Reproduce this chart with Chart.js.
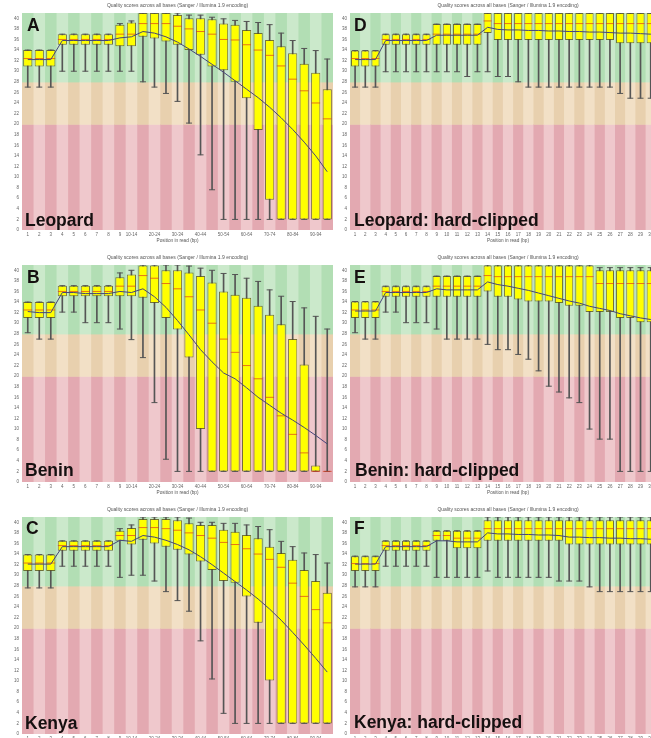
<!DOCTYPE html>
<html>
<head>
<meta charset="utf-8">
<script src="https://cdn.jsdelivr.net/npm/chart.js@4.4.0/dist/chart.umd.min.js"></script>
<style>
  html, body { margin: 0; padding: 0; background: #fff; width: 651px; height: 738px; overflow: hidden; }
  .panel { position: absolute; }
  .tag { position: absolute; font-family: "Liberation Sans", Arial, sans-serif; font-weight: bold;
         font-size: 17.5px; line-height: 1; color: #151010; white-space: nowrap; }
</style>
</head>
<body>
<canvas class="panel" id="cA" width="340" height="252" style="left:0;top:0"></canvas>
<canvas class="panel" id="cB" width="340" height="252" style="left:0;top:252px"></canvas>
<canvas class="panel" id="cC" width="340" height="252" style="left:0;top:504px"></canvas>
<canvas class="panel" id="cD" width="360" height="252" style="left:325px;top:0"></canvas>
<canvas class="panel" id="cE" width="360" height="252" style="left:325px;top:252px"></canvas>
<canvas class="panel" id="cF" width="360" height="252" style="left:325px;top:504px"></canvas>

<div class="tag" style="left:27px;top:17px">A</div>
<div class="tag" style="left:25px;top:212px">Leopard</div>
<div class="tag" style="left:27px;top:268.5px">B</div>
<div class="tag" style="left:25px;top:462px">Benin</div>
<div class="tag" style="left:26px;top:520px">C</div>
<div class="tag" style="left:25px;top:715px">Kenya</div>
<div class="tag" style="left:354px;top:17px">D</div>
<div class="tag" style="left:354px;top:212px">Leopard: hard-clipped</div>
<div class="tag" style="left:354px;top:268.5px">E</div>
<div class="tag" style="left:355px;top:462px">Benin: hard-clipped</div>
<div class="tag" style="left:354px;top:520px">F</div>
<div class="tag" style="left:354px;top:713.5px">Kenya: hard-clipped</div>

<script>
// position groups on the x axis
const groupedLabels = ['1','2','3','4','5','6','7','8','9','10-14','15-19','20-24','25-29','30-34','35-39',
  '40-44','45-49','50-54','55-59','60-64','65-69','70-74','75-79','80-84','85-89','90-94','95-99'];
const baseLabels = ['1','2','3','4','5','6','7','8','9','10','11','12','13','14','15','16','17','18','19','20',
  '21','22','23','24','25','26','27','28','29','30','31'];
const yTicks = [0,2,4,6,8,10,12,14,16,18,20,22,24,26,28,30,32,34,36,38,40];
const zoneLimits = [0, 20, 28, 41];

// A: Leopard
const leopardLow  = [27,27,27, 30,30,30,30,30, 30,30, 28,27,25.8,24.3,20.2,14.2,7.6,2,2,2,2,2,2,2,2,2,2];
const leopardQ1   = [30.9,30.9,30.9, 35,35,35,35,35, 34.7,34.7, 36.5,36.2,35.6,35,34,33.1,30.9,30.2,28,24.9,18.9,5.7,2,2,2,2,2];
const leopardMed  = [32.4,32.4,32.4, 36,36,36,36,36, 37,37, 39,39,39,38.5,38,37.5,37,36,35.9,35,34,33,31,28.5,26.3,24,21];
const leopardQ3   = [34,34,34, 37,37,37,37,37, 38.8,39.2, 41,41,41,40.6,40,40,39.8,39,38.8,37.8,37.2,35.9,34.7,33.4,31.4,29.7,26.6];
const leopardHigh = [34,34,34, 37,37,37,37,37, 39,39.5, 41,41,41,41,40.6,40.6,40.2,39.9,39.6,39.4,39.2,38.8,37.2,35.8,34.3,33.9,32.3];
const leopardMean = [32.2,32.2,32.2, 35.8,35.8,35.8,35.8,35.8, 36.3,36.5, 37.5,37.2,36.5,35.5,34.2,32.8,31.3,29.8,28.2,26.6,25,23.2,21.2,19,16.6,14,11];

// B: Benin
const beninLow  = [28.2,27,27, 32.1,32.1,30.1,30.1,30.1, 28.9,26.9, 23.5,15,4.3,2,2,2,2,2,2,2,2,2,2,2,2,2,2];
const beninQ1   = [31,31,31, 35.1,35.1,35.1,35.1,35.1, 35.1,35.1, 34.8,33.8,31,28.8,23.5,10,2,2,2,2,2,2,2,2,2,2,2];
const beninMed  = [32.5,32.5,32.5, 36,36,36,36,36, 37,37, 39,38.5,37.5,36.5,35,32.5,30,27,24.5,22,19.5,16,12.5,9,5.5,2,2];
const beninQ3   = [34,34,34, 37.1,37.1,37.1,37.1,37.1, 38.7,39.2, 40.9,40.9,40,40,39.6,38.9,37.7,36,35.4,34.8,33.3,31.6,29.8,27,22.2,3.1,2];
const beninHigh = [34,34,34, 37.1,37.1,37.1,37.1,37.1, 39.5,40, 41,41,41,41,40.8,40.4,40,39.4,39.2,38.5,37.9,36.3,35.1,34.1,32.9,31.3,28.9];
const beninMean = [32.2,32,32, 35.8,35.8,35.6,35.6,35.6, 36,35.8, 36.5,35,33,30.5,27.8,25,22.7,20.6,19.5,17.8,16,14.5,13,11.7,10.3,8.8,7.2];

// C: Kenya
const kenyaLow  = [27.6,27.6,27.6, 31.7,31.7,31.7,31.7,31.7, 29.6,30, 30,28.9,26.9,25.2,23.2,17.6,10.4,3.9,2,2,2,2,2,2,2,2,2];
const kenyaQ1   = [30.8,30.8,30.8, 34.6,34.6,34.6,34.6,34.6, 36.5,35.8, 36.7,36,35.4,34.8,33.9,32.6,31,28.9,28.6,26,21,10.1,2,2,2,2,2];
const kenyaMed  = [32.3,32.3,32.3, 35.6,35.6,35.6,35.6,35.6, 37.5,37.5, 39,39,38.8,38.5,38,37.5,37,36.2,35.8,35,34,33,31.5,28.5,26,23.5,21];
const kenyaQ3   = [33.9,33.9,33.9, 36.5,36.5,36.5,36.5,36.5, 38.4,38.9, 40.6,40.6,40.6,40.4,39.8,39.5,39.5,38.6,38.2,37.6,37,35.4,34.2,32.9,31,28.9,26.7];
const kenyaHigh = [33.9,33.9,33.9, 36.5,36.5,36.5,36.5,36.5, 38.8,39.5, 41,41,41,41,40.8,40,40,39.8,39.8,39.5,39.2,38.6,36.4,35.4,34.2,33.9,32.3];
const kenyaMean = [32.1,32.1,32.1, 35.4,35.4,35.4,35.4,35.4, 36.6,36.4, 37.5,37.2,36.6,35.8,34.8,33.5,32,30.4,28.8,27.2,25.5,23.6,21.5,19.2,16.8,14.3,11.7];

// D: Leopard hard-clipped
const clipLeopardLow  = [27,27,27, 29.9,29.9,29.9,29.9,29.9, 29.9,29.9,29.9,29,29.9, 29.9, 29,29, 28, 27,27,27,27,27,27,27,27,27, 25.8, 24.9,24.9,24.9,24.9];
const clipLeopardQ1   = [30.9,30.9,30.9, 35,35,35,35,35, 35,35,35,35,35, 37.2, 35.9,35.9,35.9,35.9,35.9,35.9,35.9,35.9,35.9,35.9,35.9,35.9, 35.3,35.3,35.3,35.3,35.3];
const clipLeopardMed  = [32.4,32.4,32.4, 36,36,36,36,36, 37,37,37,37,37, 39.5, 39,39,39,39,39,39,39,39,39,39,39,39,39,39,39,39,39];
const clipLeopardQ3   = [33.9,33.9,33.9, 37,37,37,37,37, 38.9,38.9,38.9,38.9,38.9, 41,41,41,41,41,41,41,41,41,41,41,41,41,41,41,41,41,41];
const clipLeopardHigh = [33.9,33.9,33.9, 37,37,37,37,37, 38.9,38.9,38.9,38.9,38.9, 41,41,41,41,41,41,41,41,41,41,41,41,41,41,41,41,41,41];
const clipLeopardMean = [32.2,32.2,32.2, 35.8,35.8,35.8,35.8,35.8, 36.8,36.8,36.8,36.8,36.8, 38.3, 37.9,37.8,37.8,37.7,37.7,37.6,37.6,37.5,37.5,37.4,37.4,37.3,37.2,37.2,37.1,37,37];

// E: Benin hard-clipped
const clipBeninLow  = [28.2,27,27, 32.1,32.1,30.1,30.1,30.1, 28.9, 27,27,27,27, 26, 25,25, 24.1, 23.2, 21, 18.1, 17, 15.9, 15, 10, 8.1,8.1, 2,2,2,2,2];
const clipBeninQ1   = [31,31,31, 35,35,35,35,35, 35,35,35,35,35, 36, 35,35, 34.5, 34.1,34.1,34.1, 33.8, 33.3,33.3, 32.1,32.1,32.1, 31,31, 30.2,30.2, 30];
const clipBeninMed  = [32.5,32.5,32.5, 36,36,36,36,36, 37,37,37,37,37, 39, 38.8,38.8,38.8,38.8,38.8,38.8,38.8,38.8,38.8,38.8, 37.5,37.5,37.5,37.5,37.5,37.5,37.5];
const clipBeninQ3   = [34.1,34.1,34.1, 37,37,37,37,37, 38.9,38.9,38.9,38.9,38.9, 40.9,40.9,40.9,40.9,40.9,40.9,40.9,40.9,40.9,40.9,40.9, 40,40,40,40,40,40,40];
const clipBeninHigh = [34.1,34.1,34.1, 37,37,37,37,37, 38.9,38.9,38.9,38.9,38.9, 41,41,41,41,41,41,41,41,41,41,41, 40.5,40.5,40.5,40.5,40.5,40.5,40.5];
const clipBeninMean = [32.3,32.3,32.3, 35.8,35.8,35.8,35.8,35.8, 36.5,36.3,36.3,36.3,36.3, 37.8,37.3,37,36.6,36.2,35.7,35.2,34.7,34.2,33.8,33.2,32.8,32.4,31.8,31.4,31,30.7,30.3];

// F: Kenya hard-clipped
const clipKenyaLow  = [27.8,27.8,27.8, 31.7,31.7,31.7,31.7,31.7, 29.6,29.6,29.6,29.6,29.6, 30.8, 29.6,29.6,29.6,29.6,29.6,29.6, 28.9,28.9,28.9, 27.8, 26.9,26.9,26.9,26.9,26.9,26.9,26.9];
const clipKenyaQ1   = [30.8,30.8,30.8, 34.6,34.6,34.6,34.6,34.6, 36.5,36.5, 35.1,35.1,35.1, 36.5,36.5,36.5,36.5,36.5,36.5,36.5,36.5, 35.8,35.8,35.8,35.8,35.8,35.8,35.8,35.8,35.8,35.8];
const clipKenyaMed  = [32.2,32.2,32.2, 35.6,35.6,35.6,35.6,35.6, 37.5,37.5, 37,37,37, 38.8,38.8,38.8,38.8,38.8,38.8,38.8,38.8,38.8,38.8,38.8,38.8,38.8,38.8,38.8,38.8,38.8,38.8];
const clipKenyaQ3   = [33.6,33.6,33.6, 36.5,36.5,36.5,36.5,36.5, 38.4,38.4,38.4,38.4,38.4, 40.4,40.4,40.4,40.4,40.4,40.4,40.4,40.4,40.4,40.4,40.4,40.4,40.4,40.4,40.4,40.4,40.4,40.4];
const clipKenyaHigh = [33.6,33.6,33.6, 36.5,36.5,36.5,36.5,36.5, 38.4,38.4,38.4,38.4,38.4, 41,41,41,41,41,41,41,41,41,41,41,41,41,41,41,41,41,41];
const clipKenyaMean = [32.1,32.1,32.1, 35.4,35.4,35.4,35.4,35.4, 36.5,36.5, 36.3,36.3,36.3, 38,37.8,37.8,37.7,37.7,37.6,37.6,37.5, 37.2,37.2,37.1,37.1,37,37,36.9,36.9,36.8,36.7];

const plotTitle = 'Quality scores across all bases (Sanger / Illumina 1.9 encoding)';

Chart.defaults.font.family = '"Liberation Sans", Arial, sans-serif';

// green / orange / red bands, alternating shade per column (FastQC style)
const zoneColors = [['#e3a9b1', '#efc8cc'], ['#e8d0ae', '#f2e0c6'], ['#b2deb4', '#cbe9cb']];

const zones = {
  id: 'zones',
  beforeDatasetsDraw(chart) {
    const { ctx, chartArea, scales: { x, y } } = chart;
    const n = chart.data.labels.length;
    const step = x.getPixelForValue(1) - x.getPixelForValue(0);
    ctx.save();
    ctx.beginPath();
    ctx.rect(chartArea.left, chartArea.top, chartArea.right - chartArea.left, chartArea.bottom - chartArea.top);
    ctx.clip();
    for (let i = 0; i < n; i++) {
      const x0 = x.getPixelForValue(i) - step / 2;
      for (let z = 0; z < 3; z++) {
        const top = y.getPixelForValue(zoneLimits[z + 1]);
        const bottom = y.getPixelForValue(zoneLimits[z]);
        ctx.fillStyle = zoneColors[z][i % 2];
        ctx.fillRect(x0, top, step + 0.6, bottom - top + 0.6);
      }
    }
    ctx.restore();
  }
};

const titleText = {
  id: 'titleText',
  afterDraw(chart) {
    const { ctx, chartArea } = chart;
    ctx.save();
    ctx.font = '5px "Liberation Sans", Arial, sans-serif';
    ctx.fillStyle = '#555';
    ctx.textAlign = 'center';
    ctx.textBaseline = 'middle';
    ctx.fillText(plotTitle, (chartArea.left + chartArea.right) / 2, chartArea.top - 7);
    ctx.restore();
  }
};

function boxChart(id, labels, low, q1, med, q3, high, mean, grouped) {
  const whisker = '#555';
  return new Chart(document.getElementById(id), {
    data: {
      labels: labels,
      datasets: [
        { type: 'line', data: mean, borderColor: '#45457a', borderWidth: 1, pointRadius: 0, order: 0 },
        { type: 'line', data: med, showLine: false, pointStyle: 'line', pointRadius: grouped ? 4.4 : 4,
          pointBorderColor: 'rgba(220,60,30,0.7)', pointBorderWidth: 1, order: 1 },
        { type: 'line', data: low, showLine: false, pointStyle: 'line', pointRadius: 3,
          pointBorderColor: whisker, pointBorderWidth: 1, order: 2 },
        { type: 'line', data: high, showLine: false, pointStyle: 'line', pointRadius: 3,
          pointBorderColor: whisker, pointBorderWidth: 1, order: 2 },
        { type: 'bar', data: q1.map((v, i) => [v, q3[i]]), backgroundColor: '#ffff00',
          borderColor: 'rgba(90,84,20,0.8)', borderWidth: 1, borderSkipped: false,
          barPercentage: 0.8, categoryPercentage: 1, grouped: false, order: 3 },
        { type: 'bar', data: low.map((v, i) => [v, high[i]]), backgroundColor: whisker,
          barThickness: 1, grouped: false, order: 4 }
      ]
    },
    options: {
      responsive: false,
      animation: false,
      devicePixelRatio: 1,
      layout: { padding: grouped ? { left: 0, right: 7, top: 13, bottom: 7 }
                                 : { left: 3, right: 19, top: 13, bottom: 7 } },
      plugins: { legend: { display: false }, tooltip: { enabled: false } },
      scales: {
        x: {
          type: 'category',
          offset: true,
          grid: { display: false, drawTicks: false },
          border: { display: false },
          ticks: {
            autoSkip: false, maxRotation: 0, minRotation: 0, padding: 2,
            font: { size: 4.5 }, color: '#666',
            callback: function (val, idx) {
              if (grouped && idx > 9 && (idx - 9) % 2) return '';
              return this.getLabelForValue(val);
            }
          },
          title: { display: true, text: 'Position in read (bp)', font: { size: 4.7 }, color: '#555',
                   padding: { top: 0, bottom: 1 } },
          afterFit: s => { s.height = 15; }
        },
        y: {
          min: 0, max: 41,
          grid: { display: false, drawTicks: false },
          border: { display: false },
          ticks: { padding: 3, font: { size: 4.5 }, color: '#666' },
          afterBuildTicks: s => { s.ticks = yTicks.map(v => ({ value: v })); },
          afterFit: s => { s.width = 22; }
        }
      }
    },
    plugins: [zones, titleText]
  });
}

boxChart('cA', groupedLabels, leopardLow, leopardQ1, leopardMed, leopardQ3, leopardHigh, leopardMean, true);
boxChart('cB', groupedLabels, beninLow, beninQ1, beninMed, beninQ3, beninHigh, beninMean, true);
boxChart('cC', groupedLabels, kenyaLow, kenyaQ1, kenyaMed, kenyaQ3, kenyaHigh, kenyaMean, true);
boxChart('cD', baseLabels, clipLeopardLow, clipLeopardQ1, clipLeopardMed, clipLeopardQ3, clipLeopardHigh, clipLeopardMean, false);
boxChart('cE', baseLabels, clipBeninLow, clipBeninQ1, clipBeninMed, clipBeninQ3, clipBeninHigh, clipBeninMean, false);
boxChart('cF', baseLabels, clipKenyaLow, clipKenyaQ1, clipKenyaMed, clipKenyaQ3, clipKenyaHigh, clipKenyaMean, false);
</script>
</body>
</html>
